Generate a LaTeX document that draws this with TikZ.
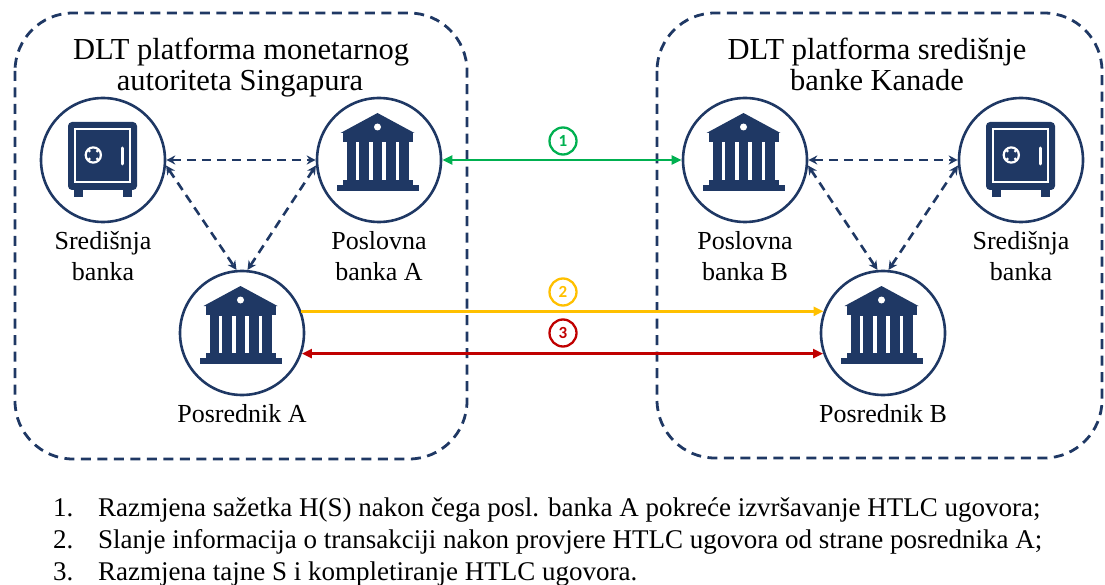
\documentclass[tikz,border=0pt]{standalone}
\usepackage{fontspec}
\setmainfont{Liberation Serif}
\newfontfamily\numfont{Carlito}
\usetikzlibrary{arrows.meta}
\definecolor{navy}{RGB}{31,56,100}
\definecolor{cgreen}{RGB}{0,176,80}
\definecolor{cyellow}{RGB}{255,192,0}
\definecolor{cred}{RGB}{192,0,0}
\tikzset{
  platform/.style={draw=navy, line width=2.8pt, dash pattern=on 10pt off 6.5pt, rounded corners=58pt},
  iconc/.style={circle, draw=navy, line width=2.6pt, minimum size=124pt, inner sep=0pt},
  dasharr/.style={draw=navy, line width=2.6pt, dash pattern=on 9pt off 6pt,
     {Stealth[length=9pt,width=9pt]}-{Stealth[length=9pt,width=9pt]}},
  garr/.style={draw=cgreen, line width=2.4pt, {Triangle[length=10pt,width=9pt]}-{Triangle[length=10pt,width=9pt]}},
  yarr/.style={draw=cyellow, line width=2.4pt, -{Triangle[length=10pt,width=9pt]}},
  rarr/.style={draw=cred, line width=2.4pt, {Triangle[length=10pt,width=9pt]}-{Triangle[length=10pt,width=9pt]}},
  numc/.style={circle, draw=#1, text=#1, line width=2.3pt, minimum size=27pt, inner sep=0pt,
     font=\numfont\bfseries\fontsize{17}{17}\selectfont},
  lab/.style={font=\fontsize{26}{30}\selectfont, anchor=base, inner sep=0pt},
  ttl/.style={font=\fontsize{30.5}{34}\selectfont, anchor=base, inner sep=0pt},
  lst/.style={font=\fontsize{27}{31}\selectfont, anchor=base west, inner sep=0pt},
  bank/.pic={
    \begin{scope}[xshift=-1.5pt]
      \fill[navy] (-37,-27) -- (0,-47) -- (37,-27) -- cycle;
      \fill[navy] (-35,-27.5) rectangle (35,-18);
      \fill[navy] (-31,-18.5) rectangle (31,20.5);
      \fill[navy] (-35,20) rectangle (35,25.5);
      \fill[navy] (-41,25) rectangle (41,31);
      \fill[white] (0,-33) circle (3.5);
      \foreach \gx in {-21.5,-8.3,4.9,18.1}
        \fill[white] (\gx,-17.5) rectangle ++(3.4,37.5);
    \end{scope}
  },
  safe/.pic={
    \fill[navy, rounded corners=4pt] (-35,-38) rectangle (34,30);
    \fill[navy] (-29,28) rectangle (-20,37);
    \fill[navy] (20,28) rectangle (29,37);
    \draw[white, line width=1.8pt] (-28,-31) rectangle (27,22);
    \draw[white, line width=2.2pt] (-9.7,-5) circle (7.6);
    \foreach \a in {45,135,225,315}
      \fill[white] (-9.7,-5) ++(\a:5.6) circle (1.5);
    \draw[white, line width=3pt, line cap=round] (19.5,-12) -- (19.5,4);
  }
}
\begin{document}
\begin{tikzpicture}[x=1pt,y=-1pt]
\useasboundingbox (0,0) rectangle (1105,585);
% platforms
\draw[platform] (15,13) rectangle (467,459);
\draw[platform] (657,13) rectangle (1102,458);
% titles
\node[ttl] (t1a) at (241,60) {DLT platforma monetarnog};
\node[ttl] (t1b) at (240,91) {autoriteta Singapura};
\node[ttl] (t2a) at (877,60) {DLT platforma središnje};
\node[ttl] (t2b) at (877,91) {banke Kanade};
% icon circles
\node[iconc] (sl) at (103,160) {};
\pic at (sl) {safe};
\node[iconc] (psa) at (379,160) {};
\pic at (psa) {bank};
\node[iconc] (pA) at (242,333) {};
\pic at (pA) {bank};
\node[iconc] (psb) at (745,160) {};
\pic at (psb) {bank};
\node[iconc] (sr) at (1021,160) {};
\pic at (sr) {safe};
\node[iconc] (pB) at (883,333) {};
\pic at (pB) {bank};
% labels
\node[lab] (sl1) at (103,250) {Središnja};
\node[lab] (sl2) at (103,280) {banka};
\node[lab] (psa1) at (379,250) {Poslovna};
\node[lab] (psa2) at (379,280) {banka A};
\node[lab] (pA1) at (242,422) {Posrednik A};
\node[lab] (psb1) at (745,250) {Poslovna};
\node[lab] (psb2) at (745,280) {banka B};
\node[lab] (sr1) at (1021,250) {Središnja};
\node[lab] (sr2) at (1021,280) {banka};
\node[lab] (pB1) at (883,422) {Posrednik B};
% dashed connectors
\draw[dasharr] (sl.east) -- (psa.west);
\draw[dasharr] (sl.-5) -- (pA.95);
\draw[dasharr] (psa.185) -- (pA.85);
\draw[dasharr] (psb.east) -- (sr.west);
\draw[dasharr] (psb.-5) -- (pB.95);
\draw[dasharr] (sr.185) -- (pB.85);
% colored connectors
\draw[garr] (psa.east) -- (psb.west);
\draw[yarr] (pA.20) -- (pB.160);
\draw[rarr] (pA.-19) -- (pB.199);
\node[numc=cgreen] (n1) at (563,141) {1};
\node[numc=cyellow] (n2) at (563,292) {2};
\node[numc=cred] (n3) at (563,333) {3};
% list
\node[lst] (l1n) at (53,516) {1.};
\node[lst] (l1) at (98,516) {Razmjena sažetka H(S) nakon čega posl. banka A pokreće izvršavanje HTLC ugovora;};
\node[lst] (l2n) at (53,548) {2.};
\node[lst] (l2) at (98,548) {Slanje informacija o transakciji nakon provjere HTLC ugovora od strane posrednika A;};
\node[lst] (l3n) at (53,580) {3.};
\node[lst] (l3) at (98,580) {Razmjena tajne S i kompletiranje HTLC ugovora.};
\end{tikzpicture}
\end{document}
